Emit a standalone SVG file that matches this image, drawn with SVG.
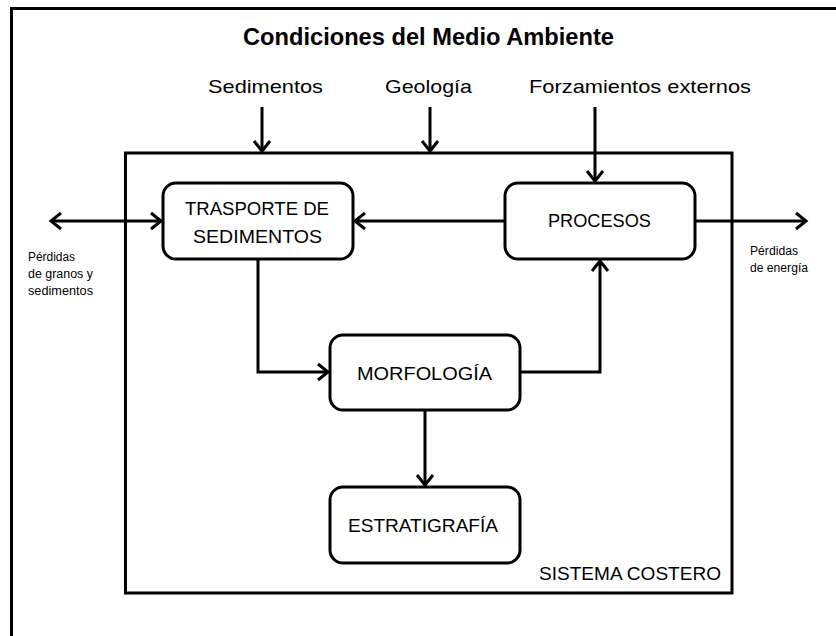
<svg xmlns="http://www.w3.org/2000/svg" width="836" height="636" viewBox="0 0 836 636">
<style>
.t{font-family:"Liberation Sans",Arial,sans-serif;fill:#000}
.title{font-size:24px;font-weight:bold}
.lbl{font-size:19px}
.box{fill:#fff;stroke:#000;stroke-width:3}
.sm{font-size:12.5px}
.c{fill:none;stroke:#000;stroke-width:3}
</style>
<defs>
<marker id="ah" viewBox="-12 -12 24 24" refX="0" refY="0" markerWidth="24" markerHeight="24" markerUnits="userSpaceOnUse" orient="auto-start-reverse">
<path d="M-10,-8 L0,0 L-10,8" fill="none" stroke="#000" stroke-width="3" stroke-linejoin="miter"/>
</marker>
</defs>
<rect x="0" y="0" width="836" height="636" fill="#fff"/>
<rect x="11.5" y="8.5" width="840" height="640" fill="none" stroke="#000" stroke-width="3"/>
<text class="t title" x="243" y="45" textLength="371" lengthAdjust="spacingAndGlyphs">Condiciones del Medio Ambiente</text>
<g id="outer-system">
<rect x="125.5" y="153" width="606.5" height="440" fill="none" stroke="#000" stroke-width="3"/>
<text class="t lbl" x="539" y="580" textLength="182" lengthAdjust="spacingAndGlyphs">SISTEMA COSTERO</text>
</g>
<g id="inputs">
<text class="t lbl" x="208" y="93" textLength="115" lengthAdjust="spacingAndGlyphs">Sedimentos</text>
<text class="t lbl" x="385" y="93" textLength="87" lengthAdjust="spacingAndGlyphs">Geología</text>
<text class="t lbl" x="529" y="93" textLength="222" lengthAdjust="spacingAndGlyphs">Forzamientos externos</text>
</g>
<g id="losses-left">
<text class="t sm" x="28" y="261" textLength="47" lengthAdjust="spacingAndGlyphs">Pérdidas</text>
<text class="t sm" x="28" y="278" textLength="65" lengthAdjust="spacingAndGlyphs">de granos y</text>
<text class="t sm" x="28" y="295" textLength="65" lengthAdjust="spacingAndGlyphs">sedimentos</text>
</g>
<g id="losses-right">
<text class="t sm" x="750" y="255" textLength="48" lengthAdjust="spacingAndGlyphs">Pérdidas</text>
<text class="t sm" x="750" y="272" textLength="58" lengthAdjust="spacingAndGlyphs">de energía</text>
</g>
<g id="connectors">
<path class="c" d="M262,107 V151" marker-end="url(#ah)"/>
<path class="c" d="M430,107 V151" marker-end="url(#ah)"/>
<path class="c" d="M595,107 V181" marker-end="url(#ah)"/>
<path class="c" d="M505,221 H355" marker-end="url(#ah)"/>
<path class="c" d="M51,221 H161" marker-start="url(#ah)" marker-end="url(#ah)"/>
<path class="c" d="M695,221 H806" marker-end="url(#ah)"/>
<path class="c" d="M258,259 V372 H328" marker-end="url(#ah)"/>
<path class="c" d="M520,372 H600 V261" marker-end="url(#ah)"/>
<path class="c" d="M425,410 V485" marker-end="url(#ah)"/>
</g>
<g id="trasporte">
<rect class="box" x="163" y="183" width="190" height="76" rx="13"/>
<text class="t lbl" x="185" y="215" textLength="144" lengthAdjust="spacingAndGlyphs">TRASPORTE DE</text>
<text class="t lbl" x="193" y="243" textLength="129" lengthAdjust="spacingAndGlyphs">SEDIMENTOS</text>
</g>
<g id="procesos">
<rect class="box" x="505" y="183" width="190" height="76" rx="13"/>
<text class="t lbl" x="548" y="227" textLength="103" lengthAdjust="spacingAndGlyphs">PROCESOS</text>
</g>
<g id="morfologia">
<rect class="box" x="330" y="335" width="190" height="75" rx="13"/>
<text class="t lbl" x="357" y="380" textLength="135" lengthAdjust="spacingAndGlyphs">MORFOLOGÍA</text>
</g>
<g id="estratigrafia">
<rect class="box" x="330" y="487" width="190" height="76" rx="13"/>
<text class="t lbl" x="348" y="532" textLength="150" lengthAdjust="spacingAndGlyphs">ESTRATIGRAFÍA</text>
</g>
</svg>
